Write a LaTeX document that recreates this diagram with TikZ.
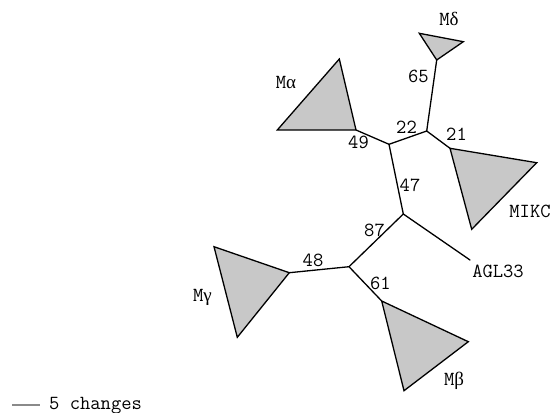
\documentclass[tikz,border=0pt]{standalone}
\usepackage{fontspec}
\newfontfamily\grk{Liberation Serif}
\definecolor{trifill}{HTML}{C8C8C8}
\definecolor{barcol}{HTML}{8A8A8A}
\tikzset{
  edge/.style={line width=1.3pt, line cap=round, line join=round},
  tri/.style={line width=1.3pt, line join=miter, fill=trifill, draw=black},
  lbl/.style={anchor=base, inner sep=0pt, font=\ttfamily\fontsize{20}{22}\selectfont},
}
\begin{document}
\begin{tikzpicture}[x=1pt,y=-1pt]
\useasboundingbox (0,0) rectangle (553,412);
% internal nodes
\coordinate (A) at (426.7,131);
\coordinate (B) at (389,144.3);
\coordinate (C) at (403.3,214);
\coordinate (D) at (349,266.7);
% clade tips
\coordinate (dT) at (436.7,60);
\coordinate (d2) at (419.3,33.3);
\coordinate (d3) at (463.3,41.7);
\coordinate (aT) at (356,130);
\coordinate (a2) at (339.3,59);
\coordinate (a3) at (277.3,130);
\coordinate (kT) at (450,148.3);
\coordinate (k2) at (536.7,162.7);
\coordinate (k3) at (471.7,229.3);
\coordinate (gT) at (289.3,272.7);
\coordinate (g2) at (214,246.7);
\coordinate (g3) at (237.3,337.3);
\coordinate (bT) at (381.7,301);
\coordinate (b2) at (468.3,341.7);
\coordinate (b3) at (404,390.7);
\coordinate (agl) at (470,260);
% triangles
\draw[tri] (dT) -- (d2) -- (d3) -- cycle;
\draw[tri] (aT) -- (a2) -- (a3) -- cycle;
\draw[tri] (kT) -- (k2) -- (k3) -- cycle;
\draw[tri] (gT) -- (g2) -- (g3) -- cycle;
\draw[tri] (bT) -- (b2) -- (b3) -- cycle;
% edges
\draw[edge] (A) -- (dT);
\draw[edge] (A) -- (B);
\draw[edge] (A) -- (kT);
\draw[edge] (B) -- (aT);
\draw[edge] (B) -- (C);
\draw[edge] (C) -- (agl);
\draw[edge] (C) -- (D);
\draw[edge] (D) -- (gT);
\draw[edge] (D) -- (bT);
% support values
\node[lbl] (n65) at (418.5,82) {65};
\node[lbl] (n22) at (406.5,133) {22};
\node[lbl] (n21) at (456.5,140) {21};
\node[lbl] (n49) at (358.5,148) {49};
\node[lbl] (n47) at (410,191) {47};
\node[lbl] (n87) at (374.5,236.5) {87};
\node[lbl] (n48) at (313,266.5) {48};
\node[lbl] (n61) at (380.5,289) {61};
% clade labels
\node[lbl] (lD) at (449,26) {M{\grk\fontsize{19}{22}\selectfont δ}};
\node[lbl] (lA) at (286,88.5) {M{\grk\fontsize{19}{22}\selectfont α}};
\node[lbl] (lK) at (530,217.5) {MIKC};
\node[lbl] (lAGL) at (498,277.7) {AGL33};
\node[lbl] (lG) at (202.5,301) {M{\grk\fontsize{19}{22}\selectfont γ}};
\node[lbl] (lB) at (454,385) {M{\grk\fontsize{19}{22}\selectfont β}};
% scale bar
\coordinate (s1) at (12,405);
\coordinate (s2) at (40,405);
\draw[barcol, line width=1.2pt] (s1) -- (s2);
\node[lbl, anchor=base west] (scl) at (49,409) {5 changes};
\end{tikzpicture}
\end{document}
